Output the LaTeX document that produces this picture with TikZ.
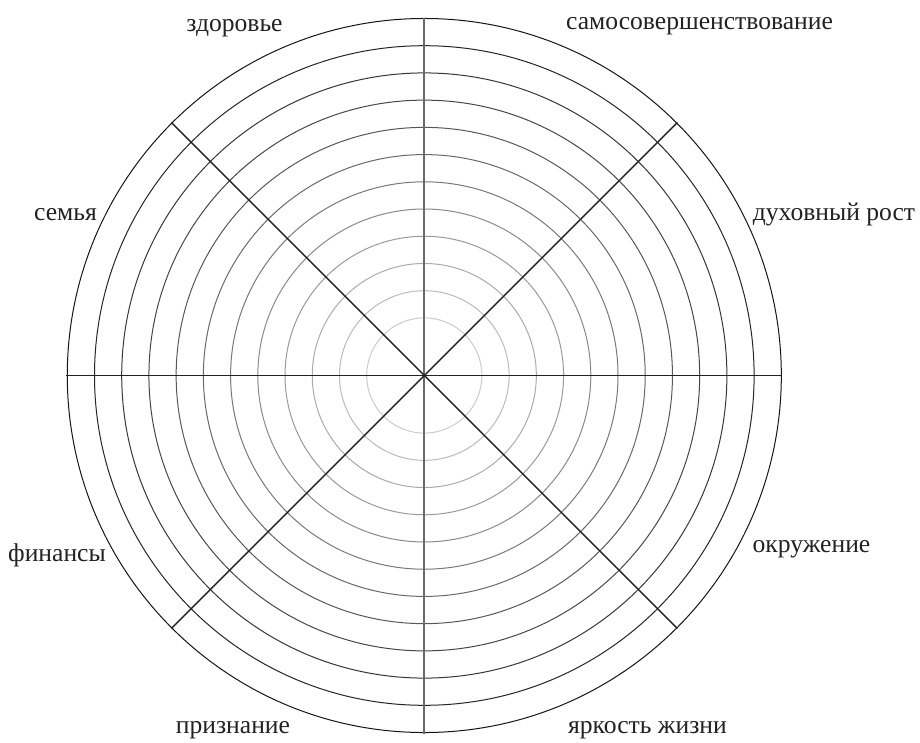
\documentclass[tikz,border=0pt]{standalone}
\usepackage{fontspec}
\usetikzlibrary{calc}
\setmainfont{Liberation Serif}
\definecolor{ink}{HTML}{222222}
\definecolor{vline}{HTML}{6A6A6A}
\tikzset{
  lbl/.style={anchor=base, text=ink, font=\fontsize{25.6}{30}\selectfont, inner sep=0pt},
  spoke/.style={draw=ink, line width=1.4pt},
  vspoke/.style={draw=vline, line width=2pt},
}
\begin{document}
\begin{tikzpicture}[x=1pt,y=-1pt]
\useasboundingbox (0,0) rectangle (920,742);
\fill[white] (0,0) rectangle (920,742);
\coordinate (c) at (424.3,375.5);
% circles
\foreach \k in {0,...,11}{
  \pgfmathsetmacro{\r}{57.6+27.22*\k}
  \pgfmathsetmacro{\g}{20+\k*6.5}
  \draw[black!\g, line width=1pt] (c) circle[radius=\r];
}
% spoke ends
\coordinate (e0) at ($(c)+(358,0)$);
\coordinate (e180) at ($(c)+(-358,0)$);
\coordinate (e90) at ($(c)+(0,-358)$);
\coordinate (e270) at ($(c)+(0,358)$);
\coordinate (e45) at ($(c)+(253,-253)$);
\coordinate (e135) at ($(c)+(-253,-253)$);
\coordinate (e225) at ($(c)+(-253,253)$);
\coordinate (e315) at ($(c)+(253,253)$);
\draw[vspoke] (e90) -- (e270);
\draw[spoke] (e180) -- (e0);
\draw[spoke] (e135) -- (e315);
\draw[spoke] (e225) -- (e45);
% labels
\node[lbl] (l1) at (234.5,31) {здоровье};
\node[lbl] (l2) at (699.5,29) {самосовершенствование};
\node[lbl] (l3) at (834,220) {духовный рост};
\node[lbl] (l4) at (65.5,220) {семья};
\node[lbl] (l5) at (57,561) {финансы};
\node[lbl] (l6) at (811.5,552) {окружение};
\node[lbl] (l7) at (233,733) {признание};
\node[lbl] (l8) at (647.5,733) {яркость жизни};
\end{tikzpicture}
\end{document}
